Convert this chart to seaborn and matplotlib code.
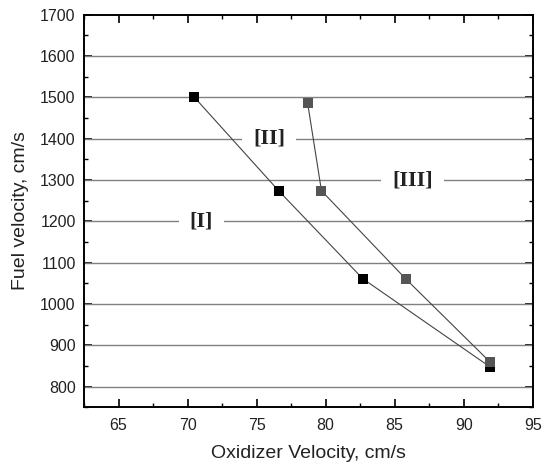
import matplotlib
matplotlib.use("Agg")
import matplotlib.pyplot as plt
from matplotlib.ticker import MultipleLocator
import seaborn as sns
import pandas as pd

# Data
series_a_x = [70.5, 76.6, 82.7, 91.9]
series_a_y = [1500, 1274, 1061, 848]
series_b_x = [78.7, 79.7, 85.8, 91.9]
series_b_y = [1486, 1274, 1061, 860]
region_labels = ["[I]", "[II]", "[III]"]
region_x = [71.0, 75.9, 86.3]
region_y = [1200, 1400, 1300]

df = pd.DataFrame({
    "x": series_a_x + series_b_x,
    "y": series_a_y + series_b_y,
    "series": ["A"] * len(series_a_x) + ["B"] * len(series_b_x),
})

sns.set_style("ticks")
plt.rcParams["font.family"] = ["Liberation Sans", "DejaVu Sans"]

fig = plt.figure(figsize=(5.48, 4.68), dpi=100)
ax = fig.add_axes([0.1533, 0.1297, 0.8187, 0.8389])

# grid lines
for gy in range(800, 1700, 100):
    ax.axhline(gy, color="#808080", lw=1.0, zorder=1)

sns.lineplot(data=df, x="x", y="y", hue="series", palette={"A": "black", "B": "#555555"},
             marker="s", markersize=6.5, markeredgewidth=0, linewidth=0.8,
             sort=False, estimator=None, legend=False, ax=ax, zorder=3)
for line in ax.get_lines()[-2:]:
    line.set_color("#444444")
ax.get_lines()[-2].set_markerfacecolor("black")
ax.get_lines()[-1].set_markerfacecolor("#555555")

for lab, lx, ly in zip(region_labels, region_x, region_y):
    ax.text(lx, ly, lab, ha="center", va="center", fontsize=16, fontweight="bold",
            color="#222222", family=["Liberation Serif", "DejaVu Serif"],
            bbox=dict(facecolor="white", edgecolor="none", pad=8), zorder=2)

ax.set_xlim(62.5, 95)
ax.set_ylim(750, 1700)
ax.xaxis.set_major_locator(MultipleLocator(5))
ax.xaxis.set_minor_locator(MultipleLocator(2.5))
ax.yaxis.set_major_locator(MultipleLocator(100))
ax.yaxis.set_minor_locator(MultipleLocator(50))
ax.set_xticks([65, 70, 75, 80, 85, 90, 95])
ax.set_yticks(list(range(800, 1701, 100)))

ax.tick_params(which="both", direction="in", top=True, right=True, labelsize=11.5,
               colors="black", labelcolor="#222222")
ax.tick_params(which="major", length=6, width=1.2)
ax.tick_params(axis="x", which="major", pad=8)
ax.tick_params(axis="y", which="major", pad=6)
ax.tick_params(which="minor", length=3, width=1.0)
for s in ax.spines.values():
    s.set_visible(True)
    s.set_linewidth(1.4)
    s.set_color("black")

ax.set_xlabel("Oxidizer Velocity, cm/s", fontsize=14, labelpad=8, color="#222222")
ax.set_ylabel("Fuel velocity, cm/s", fontsize=14, labelpad=8, color="#222222")

fig.savefig("out.png", dpi=100)
